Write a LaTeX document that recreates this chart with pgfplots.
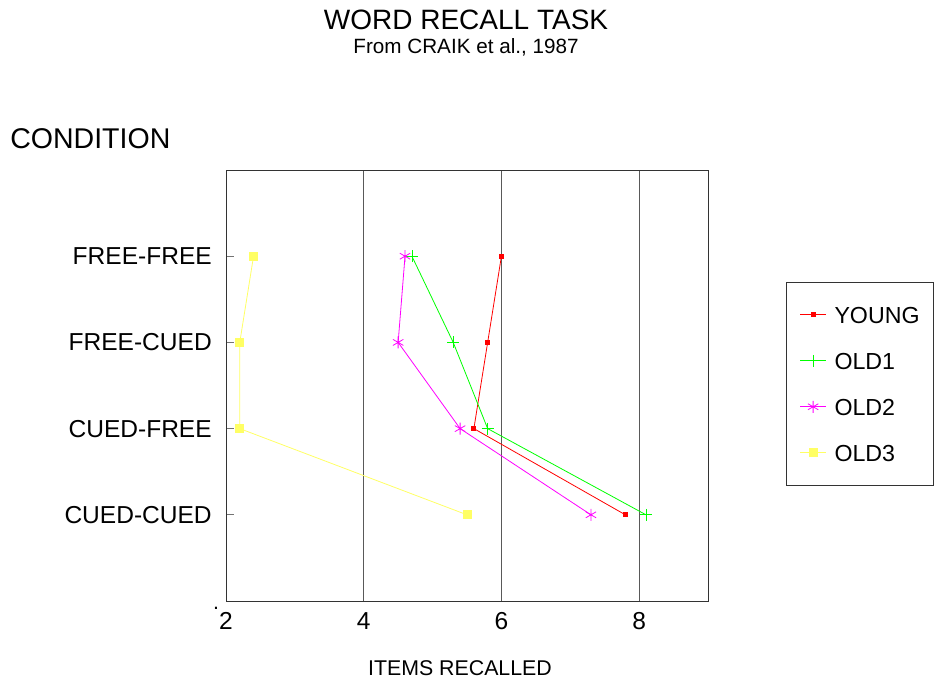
\documentclass[border=0pt]{standalone}
\usepackage{fontspec}
\setmainfont{Liberation Sans}
\usepackage{pgfplots}
\pgfplotsset{compat=1.18}
\definecolor{cred}{RGB}{255,0,0}
\definecolor{cgreen}{RGB}{0,255,0}
\definecolor{cmag}{RGB}{255,0,255}
\definecolor{cyel}{RGB}{255,255,100}
\begin{document}
\begin{tikzpicture}
\useasboundingbox (0pt,0pt) rectangle (701.25pt,-509.25pt);
\node[anchor=base, inner sep=0pt, font=\fontsize{21}{25}\selectfont] at (349.5pt,-21.75pt) {WORD RECALL TASK};
\node[anchor=base, inner sep=0pt, font=\fontsize{15.5}{18}\selectfont] at (349.5pt,-39.75pt) {From CRAIK et al., 1987};
\node[anchor=base west, inner sep=0pt, font=\fontsize{21.4}{25}\selectfont] at (7.5pt,-111pt) {CONDITION};
\node[anchor=base, inner sep=0pt, font=\fontsize{16}{19}\selectfont] at (345pt,-506.25pt) {ITEMS RECALLED};
\node[anchor=base, inner sep=0pt, font=\fontsize{16}{19}\selectfont] at (162pt,-456.75pt) {.};
\begin{axis}[
  at={(169.5pt,-450.75pt)}, anchor=south west,
  scale only axis, width=361.5pt, height=323.25pt,
  xmin=2, xmax=9, ymin=0, ymax=5,
  xtick={2,4,6,8},
  ytick={1,2,3,4},
  yticklabels={CUED-CUED,CUED-FREE,FREE-CUED,FREE-FREE},
  /pgf/number format/assume math mode=true,
  tick label style={font=\fontsize{18.4}{22}\selectfont},
  yticklabel style={inner sep=0pt, xshift=-10.5pt},
  xticklabel style={inner sep=0pt, yshift=-8.25pt},
  xmajorgrids, grid style={black!65, line width=0.6pt},
  xtick style={draw=none},
  ytick pos=left, tick align=inside, major tick length=6pt,
  ytick style={draw=black!55, line width=0.6pt},
  axis line style={black!80, line width=0.6pt},
  legend cell align=left,
  legend image code/.code={\draw[mark repeat=2,mark phase=2,#1] plot coordinates {(0pt,0pt) (9.75pt,0pt) (19.5pt,0pt)};},
  legend style={at={(1.1618,0.7401)}, anchor=north west, draw=black!80, line width=0.6pt,
    font=\fontsize{17.4}{20}\selectfont, inner xsep=10pt, inner ysep=18pt,
    row sep=22pt, column sep=6pt,
    nodes={inner sep=0pt, text height=12.5pt, text depth=0pt}},
]
\addplot[cred, line width=0.6pt, mark=square*, mark size=1.5pt, mark options={solid}] coordinates {(6.0,4) (5.8,3) (5.6,2) (7.8,1)};
\addlegendentry{YOUNG}
\addplot[cgreen, line width=0.6pt, mark=+, mark size=4.5pt, mark options={solid}] coordinates {(4.7,4) (5.3,3) (5.8,2) (8.1,1)};
\addlegendentry{OLD1}
\addplot[cmag, line width=0.6pt, mark=asterisk, mark size=4.5pt, mark options={solid}] coordinates {(4.6,4) (4.5,3) (5.4,2) (7.3,1)};
\addlegendentry{OLD2}
\addplot[cyel, line width=0.6pt, mark=square*, mark size=3pt, mark options={solid}] coordinates {(2.4,4) (2.2,3) (2.2,2) (5.5,1)};
\addlegendentry{OLD3}
\end{axis}
\end{tikzpicture}
\end{document}
